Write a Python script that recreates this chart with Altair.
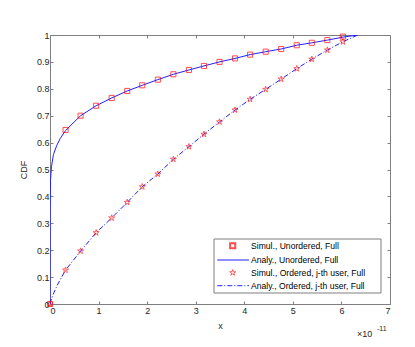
import altair as alt
import pandas as pd

# x values are in units of 1e-11
sim_x = [0.0, 0.32, 0.63, 0.95, 1.27, 1.59, 1.90, 2.22, 2.54, 2.86,
         3.17, 3.49, 3.81, 4.12, 4.44, 4.76, 5.08, 5.39, 5.71, 6.03]
sim_unord = [0.0, 0.647, 0.700, 0.737, 0.766, 0.792, 0.813, 0.834, 0.854, 0.870,
             0.885, 0.900, 0.913, 0.927, 0.938, 0.948, 0.962, 0.971, 0.981, 0.994]
sim_ord = [0.0, 0.126, 0.197, 0.265, 0.320, 0.378, 0.436, 0.483, 0.538, 0.585,
           0.631, 0.677, 0.721, 0.761, 0.798, 0.836, 0.875, 0.910, 0.944, 0.975]

ana_unord_x = [0.0, 0.002, 0.01, 0.03, 0.07, 0.14, 0.21, 0.32, 0.63, 0.95, 1.27, 1.59,
               1.90, 2.22, 2.54, 2.86, 3.17, 3.49, 3.81, 4.12, 4.44, 4.76, 5.08,
               5.39, 5.71, 6.03, 6.34]
ana_unord_y = [0.0, 0.35, 0.46, 0.51, 0.555, 0.59, 0.615, 0.645, 0.700, 0.737, 0.766,
               0.792, 0.813, 0.834, 0.854, 0.870, 0.885, 0.900, 0.913, 0.927, 0.938,
               0.948, 0.962, 0.971, 0.981, 0.992, 1.0]

ana_ord_x = [0.0, 0.05, 0.15, 0.32, 0.63, 0.95, 1.27, 1.59, 1.90, 2.22, 2.54, 2.86,
             3.17, 3.49, 3.81, 4.12, 4.44, 4.76, 5.08, 5.39, 5.71, 6.03, 6.34]
ana_ord_y = [0.0, 0.03, 0.07, 0.126, 0.197, 0.265, 0.320, 0.378, 0.436, 0.483, 0.538,
             0.585, 0.631, 0.677, 0.721, 0.761, 0.798, 0.836, 0.875, 0.910, 0.944,
             0.975, 1.0]

legend_labels = ["Simul., Unordered, Full", "Analy., Unordered, Full",
                 "Simul., Ordered, j-th user, Full", "Analy., Ordered, j-th user, Full"]

x_ticks = [0, 1, 2, 3, 4, 5, 6, 7]
y_ticks = [0, 0.1, 0.2, 0.3, 0.4, 0.5, 0.6, 0.7, 0.8, 0.9, 1]

W, H = 340, 269
BLUE = "#2020ff"
RED = "#ff0000"
STAR = ("M0,-1L0.2245,-0.309L0.951,-0.309L0.363,0.118L0.588,0.809L0,0.382"
        "L-0.588,0.809L-0.363,0.118L-0.951,-0.309L-0.2245,-0.309Z")
FONT = "Liberation Sans"
INWARD = {"expr": "-3"}
FS = 9
LFS = 8.6

sim_df = pd.DataFrame({"x": sim_x, "unord": sim_unord, "ord": sim_ord})
au_df = pd.DataFrame({"x": ana_unord_x, "y": ana_unord_y})
ao_df = pd.DataFrame({"x": ana_ord_x, "y": ana_ord_y})

xscale = alt.Scale(domain=[0, 7], nice=False, zero=False)
yscale = alt.Scale(domain=[0, 1], nice=False, zero=False)

ax_common = dict(tickSize=INWARD, domainColor="#7f7f7f", tickColor="#7f7f7f",
                 labelFont=FONT, labelFontSize=FS, labelColor="#262626",
                 titleFont=FONT, titleFontSize=FS, titleFontWeight="normal",
                 titleColor="#262626", grid=False, format="~g")

X = alt.X("x:Q", scale=xscale,
          axis=alt.Axis(values=x_ticks, title="x", labelPadding=5,
                        titlePadding=6, **ax_common))
Y = alt.Y("y:Q", scale=yscale,
          axis=alt.Axis(values=y_ticks, title="CDF", labelPadding=4,
                        titlePadding=8, **ax_common))
Xn = alt.X("x:Q", scale=xscale, axis=None)

line_unord = alt.Chart(au_df).mark_line(color=BLUE, strokeWidth=1, clip=True).encode(x=X, y=Y)
line_ord = alt.Chart(ao_df).mark_line(color=BLUE, strokeWidth=1, strokeDash=[5, 2, 1, 2],
                                       clip=True).encode(
    x=Xn, y=alt.Y("y:Q", scale=yscale, axis=None))
squares = alt.Chart(sim_df).mark_point(shape="square", filled=False, color=RED,
                                       size=26, strokeWidth=1).encode(
    x=Xn, y=alt.Y("unord:Q", scale=yscale, axis=None))
stars = alt.Chart(sim_df).mark_point(shape=STAR, filled=False, color=RED,
                                     size=40, strokeWidth=0.9).encode(
    x=Xn, y=alt.Y("ord:Q", scale=yscale, axis=None))

# mirrored top/right ticks
top_ax = dict(tickSize=INWARD, domainColor="#7f7f7f", tickColor="#7f7f7f",
              labels=False, title="", grid=False)
mirror = alt.Chart(sim_df).mark_point(opacity=0).encode(
    x=alt.X("x:Q", scale=xscale, axis=alt.Axis(orient="top", values=x_ticks, **top_ax)),
    y=alt.Y("unord:Q", scale=yscale, axis=alt.Axis(orient="right", values=y_ticks, **top_ax)),
)

one = alt.Data(values=[{}])
LX0, LX1, LY0, LY1 = 164, 331, 204, 258
rows_y = [210.7, 225, 237.7, 250.7]
leg = [alt.Chart(one).mark_rect(fill="white", stroke="#7f7f7f", strokeWidth=1).encode(
    x=alt.value(LX0), x2=alt.value(LX1), y=alt.value(LY0), y2=alt.value(LY1))]
leg.append(alt.Chart(one).mark_point(shape="square", filled=False, color=RED, size=26).encode(
    x=alt.value(182.7), y=alt.value(rows_y[0])))
leg.append(alt.Chart(one).mark_rule(color=BLUE, strokeWidth=1).encode(
    x=alt.value(167.3), x2=alt.value(199), y=alt.value(rows_y[1])))
leg.append(alt.Chart(one).mark_point(shape=STAR, filled=False, color=RED, size=40,
                                     strokeWidth=0.9).encode(
    x=alt.value(182.7), y=alt.value(rows_y[2])))
leg.append(alt.Chart(one).mark_rule(color=BLUE, strokeWidth=1, strokeDash=[5, 2, 1, 2]).encode(
    x=alt.value(167.3), x2=alt.value(199), y=alt.value(rows_y[3])))
for lab, ry in zip(legend_labels, rows_y):
    leg.append(alt.Chart(one).mark_text(align="left", baseline="middle", font=FONT,
                                        fontSize=LFS, color="#000000").encode(
        x=alt.value(201), y=alt.value(ry), text=alt.value(lab)))

expo = [
    alt.Chart(one).mark_text(align="left", baseline="middle", font=FONT, fontSize=FS,
                             color="#262626").encode(
        x=alt.value(307), y=alt.value(299), text=alt.value("×10")),
    alt.Chart(one).mark_text(align="left", baseline="middle", font=FONT, fontSize=7,
                             color="#262626").encode(
        x=alt.value(327), y=alt.value(294), text=alt.value("-11")),
]

chart = alt.layer(line_unord, line_ord, squares, stars, mirror, *leg, *expo).resolve_axis(
    x="independent", y="independent"
).properties(
    width=W, height=H,
    autosize=alt.AutoSizeParams(type="none"),
    padding={"left": 42, "top": 27, "right": 17, "bottom": 35},
).configure_view(stroke=None).configure(background="white")

chart.save("out.html", embed_options={"renderer": "svg", "actions": False})
